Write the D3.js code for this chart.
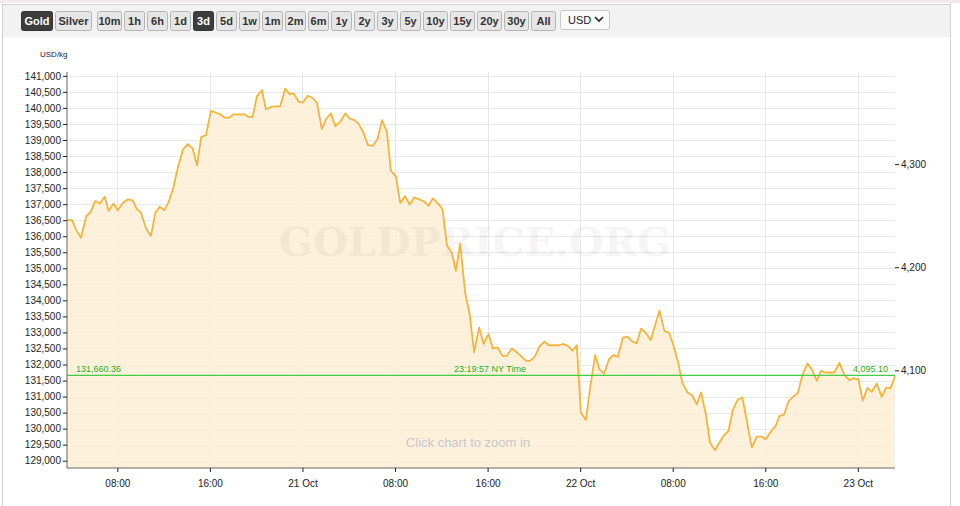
<!DOCTYPE html>
<html>
<head>
<meta charset="utf-8">
<script src="https://cdn.jsdelivr.net/npm/d3@7"></script>
<style>
  body { margin: 0; background: #fff; font-family: "Liberation Sans", Arial, sans-serif; }
  svg { display: block; }
  .btn text { font-family: "Liberation Sans Narrow", "Liberation Sans", Arial, sans-serif; font-weight: bold; font-size: 11px; }
  .axis text { font-family: "Liberation Sans Narrow", "Liberation Sans", Arial, sans-serif; font-size: 10px; fill: #222; }
</style>
</head>
<body>
<svg id="chart" width="960" height="506"></svg>
<script>
// hours since 20 Oct 00:00 (NY time)
var hours = [3.65,4.08,4.46,4.86,5.32,5.67,6.10,6.47,6.91,7.25,7.68,8.03,8.49,8.92,9.32,9.70,10.04,10.48,10.91,11.28,11.66,12.06,12.44,12.81,13.21,13.67,14.08,14.51,14.88,15.26,15.66,16.09,16.55,16.90,17.27,17.70,18.05,18.54,18.97,19.35,19.69,20.07,20.50,20.84,21.28,21.65,22.08,22.51,22.89,23.23,23.67,24.04,24.44,24.88,25.25,25.68,26.06,26.46,26.83,27.27,27.70,28.07,28.48,28.85,29.28,29.66,30.09,30.49,30.87,31.30,31.64,32.07,32.45,32.88,33.26,33.66,34.09,34.47,34.90,35.27,35.67,36.11,36.48,36.91,37.26,37.63,38.07,38.44,38.84,39.27,
  39.65,40.08,40.45,40.86,41.29,41.66,42.10,42.53,42.96,43.33,43.68,44.11,44.49,44.92,45.32,45.75,46.19,46.56,46.93,47.34,47.71,48.06,48.49,48.86,49.30,49.67,50.07,50.50,50.88,51.25,51.69,52.09,52.52,52.89,53.27,53.67,54.10,54.48,54.85,55.29,55.69,56.06,56.49,56.84,57.27,57.65,58.08,58.45,58.86,59.23,59.66,60.04,60.44,60.81,61.19,61.59,62.02,62.40,62.83,63.26,63.69,64.04,64.47,64.90,65.22,65.62,66.00,66.43,66.80,67.21,67.64,68.07,68.45,68.82,69.22,69.60,69.97,70.40,70.84,71.27,71.61,72.05,72.42,72.82,73.20,73.63,74.06,74.43,74.84,75.21];
var pricesKg = [136500,136500,136190,135950,136640,136740,137100,137020,137230,136790,137020,136810,137040,137150,137120,136840,136740,136240,136010,136730,136920,136810,137070,137470,138110,138700,138870,138740,138210,139100,139150,139910,139850,139800,139700,139700,139800,139800,139800,139720,139720,140370,140550,139960,140030,140050,140050,140600,140430,140450,140190,140170,140380,140310,140160,139340,139670,139830,139430,139570,139830,139670,139620,139510,139220,138840,138820,139030,139620,139250,138040,137870,137040,137250,136990,137210,137150,137090,136950,137180,137040,136840,135720,135480,134920,135770,134210,133590,132380,133160,
  132640,132950,132500,132530,132270,132270,132500,132380,132240,132110,132110,132260,132570,132710,132600,132600,132600,132640,132580,132430,132600,130500,130270,131260,132290,131850,131720,132170,132290,132240,132840,132870,132710,132660,133120,132990,132760,133230,133680,133040,132990,132600,132030,131410,131130,131050,130760,131130,130450,129560,129330,129570,129800,129920,130580,130890,130970,130250,129410,129750,129750,129670,129900,130090,130390,130440,130840,131010,131100,131670,132030,131820,131490,131800,131750,131750,131750,132050,131670,131510,131570,131540,130870,131270,131150,131410,130990,131270,131270,131640];
var buttons = ["Gold","Silver","10m","1h","6h","1d","3d","5d","1w","1m","2m","6m","1y","2y","3y","5y","10y","15y","20y","30y","All"];
var activeButtons = ["Gold","3d"];
var currentKg = 131660.36, currentOz = 4095.10, currentTime = "23:19:57 NY Time";
var leftTicks = d3.range(129000, 141001, 500);
var rightTicks = [4100, 4200, 4300];
var OZ_PER_KG = 32.1507;

var base = new Date(2025, 9, 20, 0, 0);
var data = hours.map(function(h, i) { return { t: new Date(base.getTime() + h * 3600e3), v: pricesKg[i] }; });

var svg = d3.select("#chart");
// frame
svg.append("rect").attr("x", 0).attr("y", 0).attr("width", 960).attr("height", 3).attr("fill", "#f6e9ee");
svg.append("rect").attr("x", 2.5).attr("y", 4.5).attr("width", 948).attr("height", 510).attr("fill", "#fff").attr("stroke", "#cfcfcf");
svg.append("rect").attr("x", 3).attr("y", 5).attr("width", 947).attr("height", 32).attr("fill", "#f2f2f2");

// buttons
var bx = 21;
var bg = svg.append("g").attr("class", "btn");
buttons.forEach(function(b, i) {
  var w = b.length <= 2 ? 20 : (b.length === 3 ? 24 : (b === "Silver" ? 36 : 31));
  if (b === "Gold") w = 31;
  var on = activeButtons.indexOf(b) >= 0;
  bg.append("rect").attr("x", bx + 0.5).attr("y", 11.5).attr("width", w).attr("height", 19).attr("rx", 2)
    .attr("fill", on ? "#3d3d3d" : "#e6e6e6").attr("stroke", on ? "#333" : "#b5b5b5");
  bg.append("text").attr("x", bx + 0.5 + w / 2).attr("y", 25).attr("text-anchor", "middle")
    .attr("fill", on ? "#fff" : "#333").text(b);
  bx += w + (i === 1 ? 6 : 3);
});
bg.append("rect").attr("x", 560.5).attr("y", 10.5).attr("width", 49).attr("height", 19).attr("rx", 2).attr("fill", "#fafafa").attr("stroke", "#c8c8c8");
svg.append("text").attr("x", 568).attr("y", 24).attr("font-size", 11).attr("fill", "#222").text("USD");
svg.append("path").attr("d", "M595,17 l4,4 l4,-4").attr("fill", "none").attr("stroke", "#222").attr("stroke-width", 1.6);

// chart
var margin = { left: 67, right: 895, top: 72, bottom: 468 };
var x = d3.scaleTime().domain([data[0].t, data[data.length - 1].t]).range([margin.left, margin.right]);
var y = d3.scaleLinear().domain([128773, 141120]).range([margin.bottom, margin.top]);
var yR = d3.scaleLinear().domain(y.domain().map(function(d) { return d / OZ_PER_KG; })).range(y.range());

var xTicks = d3.range(8, 76, 8).map(function(h) { return new Date(base.getTime() + h * 3600e3); });
var fmt = function(d) { return d.getHours() === 0 ? d3.timeFormat("%-d %b")(d) : d3.timeFormat("%H:%M")(d); };

var grid = svg.append("g");
leftTicks.forEach(function(v) {
  grid.append("line").attr("x1", margin.left).attr("x2", margin.right).attr("y1", Math.round(y(v)) + 0.5).attr("y2", Math.round(y(v)) + 0.5).attr("stroke", "#e8e8e8");
});
xTicks.forEach(function(t) {
  grid.append("line").attr("x1", Math.round(x(t)) + 0.5).attr("x2", Math.round(x(t)) + 0.5).attr("y1", margin.top).attr("y2", margin.bottom).attr("stroke", "#e8e8e8");
});

var area = d3.area().x(function(d) { return x(d.t); }).y0(margin.bottom).y1(function(d) { return y(d.v); });
var line = d3.line().x(function(d) { return x(d.t); }).y(function(d) { return y(d.v); });
svg.append("path").datum(data).attr("d", area).attr("fill", "#fdeed5").attr("opacity", 0.85);

svg.append("text").attr("x", 475).attr("y", 256).attr("text-anchor", "middle")
  .attr("font-family", "'DejaVu Serif', 'Liberation Serif', serif").attr("font-weight", "bold").attr("font-size", 40)
  .attr("fill", "#000").attr("opacity", 0.035).text("GOLDPRICE.ORG");

svg.append("path").datum(data).attr("d", line).attr("fill", "none").attr("stroke", "#f4b53f").attr("stroke-width", 1.8).attr("stroke-linejoin", "round");

// current price line
var cy = y(currentKg);
svg.append("line").attr("x1", margin.left).attr("x2", margin.right).attr("y1", cy).attr("y2", cy).attr("stroke", "#44cc44").attr("stroke-width", 1.3);
var gl = svg.append("g").attr("font-family", "'Liberation Sans Narrow', Arial, sans-serif").attr("font-size", 9).attr("fill", "#1fae1f");
gl.append("text").attr("x", 76).attr("y", cy - 3).text(d3.format(",.2f")(currentKg));
gl.append("text").attr("x", 490).attr("y", cy - 3).attr("text-anchor", "middle").text(currentTime);
gl.append("text").attr("x", 888).attr("y", cy - 3).attr("text-anchor", "end").text(d3.format(",.2f")(currentOz));

svg.append("text").attr("x", 468).attr("y", 447).attr("text-anchor", "middle").attr("font-size", 13).attr("fill", "#c8c8c8").text("Click chart to zoom in");

// axes
svg.append("g").attr("class", "axis").attr("transform", "translate(" + margin.left + ",0)")
  .call(d3.axisLeft(y).tickValues(leftTicks).tickFormat(d3.format(",")).tickSize(4).tickPadding(2))
  .call(function(g) { g.select(".domain").attr("stroke", "#666").attr("d", "M0," + margin.top + "V" + margin.bottom); g.selectAll(".tick line").attr("stroke", "#222"); });
svg.append("g").attr("class", "axis").attr("transform", "translate(" + margin.right + ",0)")
  .call(d3.axisRight(yR).tickValues(rightTicks).tickFormat(d3.format(",")).tickSize(4).tickPadding(2))
  .call(function(g) { g.select(".domain").remove(); g.selectAll(".tick line").attr("stroke", "#222"); });
svg.append("g").attr("class", "axis").attr("transform", "translate(0," + margin.bottom + ")")
  .call(d3.axisBottom(x).tickValues(xTicks).tickFormat(fmt).tickSize(4).tickPadding(8))
  .call(function(g) { g.select(".domain").attr("stroke", "#666").attr("d", "M" + margin.left + ",0H" + margin.right); g.selectAll(".tick line").attr("stroke", "#222"); });

svg.append("text").attr("x", 40).attr("y", 57).attr("font-size", 8).attr("font-family", "'Liberation Sans Narrow', Arial, sans-serif").attr("fill", "#222").text("USD/kg");
</script>
</body>
</html>
